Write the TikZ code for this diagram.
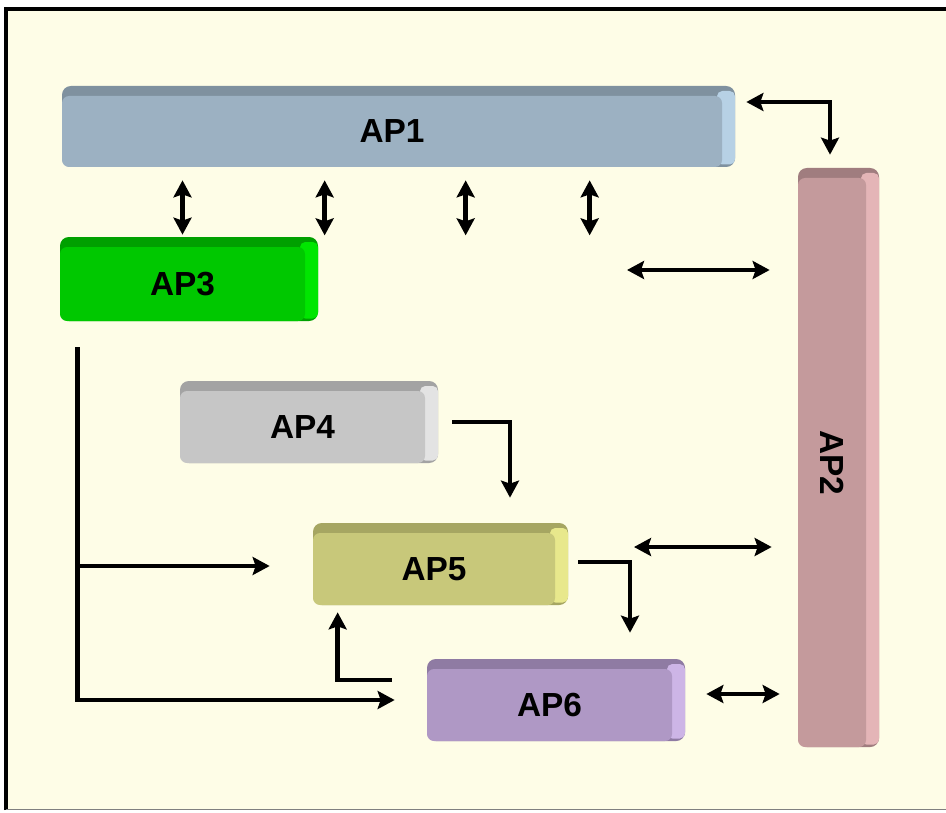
\documentclass[tikz,border=0pt]{standalone}
\usepackage{fontspec}
\setmainfont{Liberation Sans}
\usetikzlibrary{arrows.meta}

\definecolor{paper}{HTML}{FEFDE7}
\definecolor{aponeface}{HTML}{9CB1C2}
\definecolor{aponetop}{HTML}{7F919F}
\definecolor{aponeside}{HTML}{B7D1E5}
\definecolor{aptwoface}{HTML}{C49A9C}
\definecolor{aptwotop}{HTML}{A07D7F}
\definecolor{aptwoside}{HTML}{E4B5B7}
\definecolor{apthreeface}{HTML}{00C800}
\definecolor{apthreetop}{HTML}{00A000}
\definecolor{apthreeside}{HTML}{00E600}
\definecolor{apfourface}{HTML}{C6C6C6}
\definecolor{apfourtop}{HTML}{A3A3A3}
\definecolor{apfourside}{HTML}{E3E3E3}
\definecolor{apfiveface}{HTML}{C8C87A}
\definecolor{apfivetop}{HTML}{A6A662}
\definecolor{apfiveside}{HTML}{E8E88C}
\definecolor{apsixface}{HTML}{AF98C5}
\definecolor{apsixtop}{HTML}{8F7BA3}
\definecolor{apsixside}{HTML}{CDB5E6}

\begin{document}
\begin{tikzpicture}[
    apface/.style={rounded corners=4pt,inner sep=0pt,font=\fontsize{19}{22}\selectfont\bfseries},
    link/.style={line width=0.09cm,-{Stealth[length=0.34cm,width=0.36cm,inset=0.06cm]}},
    dlink/.style={line width=0.09cm,{Stealth[length=0.34cm,width=0.36cm,inset=0.06cm]}-{Stealth[length=0.34cm,width=0.36cm,inset=0.06cm]}}
]
        % block with a dark top edge and a light right edge
        % #1 name, #2 x, #3 y, #4 width, #5 height, #6 colour, #7 text
        \def\apblock#1#2#3#4#5#6#7{%
            \fill[#6top,rounded corners=5pt] ({#2-#4/2},{#3-#5/2}) rectangle ({#2+#4/2+0.26},{#3+#5/2+0.2});
            \fill[#6side,rounded corners=3pt] ({#2+#4/2-0.1},{#3-#5/2+0.05}) rectangle ({#2+#4/2+0.26},{#3+#5/2+0.1});
            \node[apface,fill=#6face,minimum width=#4cm,minimum height=#5cm] (#1) at (#2,#3) {#7};
        }
        \useasboundingbox (0,0) rectangle (18.92,16.24);
        % the frame
        \fill[white] (0,0) rectangle (18.92,16.24);
        \fill[paper] (0.12,0.04) rectangle (18.92,16.08);
        \draw[line width=0.09cm] (0.12,0.04) -- (0.12,16.06) -- (18.92,16.06);
        \draw[gray,line width=0.5pt] (0.12,0.05) -- (18.92,0.05);
        % the blocks
        \apblock{AP1}{7.84}{13.61}{13.2}{1.42}{apone}{AP1}
        \apblock{AP2}{16.64}{6.99}{1.36}{11.38}{aptwo}{\rotatebox{-90}{AP2}}
        \apblock{AP3}{3.65}{10.56}{4.9}{1.48}{apthree}{AP3}
        \apblock{AP4}{6.05}{7.70}{4.9}{1.44}{apfour}{AP4}
        \apblock{AP5}{8.68}{4.86}{4.84}{1.44}{apfive}{AP5}
        \apblock{AP6}{10.99}{2.14}{4.9}{1.44}{apsix}{AP6}
        % AP1 and AP2
        \draw[dlink] ([xshift=0.48cm,yshift=0.59cm]AP1.east) -| ([xshift=-0.04cm,yshift=0.46cm]AP2.north);
        % under AP1
        \draw[dlink,shorten <=0.02cm,shorten >=0.02cm] ([yshift=-0.24cm]AP1.south -| AP3.north) -- ([yshift=0.22cm]AP3.north);
        \foreach \dx in {5.26,8.08,10.56}
            \draw[dlink] ([xshift=\dx cm,yshift=-0.26cm]AP1.south west) -- ++(0,-1.1);
        \coordinate (m1) at (12.54,10.84);
        \draw[dlink,shorten >=0.56cm] (m1) -- (m1 -| AP2.west);
        % from AP3
        \coordinate (c3) at ([xshift=0.36cm,yshift=-0.52cm]AP3.south west);
        \draw[link,shorten >=0.64cm] (c3) |- ([yshift=0.1cm]AP6.west);
        \draw[link,shorten >=0.86cm] ([yshift=0.06cm]c3 |- AP5.west) -- ([yshift=0.06cm]AP5.west);
        % AP4, AP5 and AP6
        \draw[link] ([xshift=0.54cm,yshift=0.1cm]AP4.east) -| ([xshift=1.52cm,yshift=0.7cm]AP5.north);
        \draw[link] ([xshift=0.46cm,yshift=0.14cm]AP5.east) -| ([xshift=1.61cm,yshift=0.72cm]AP6.north);
        \draw[link] ([xshift=-0.7cm,yshift=0.5cm]AP6.west) -| ([xshift=0.5cm,yshift=-0.14cm]AP5.south west);
        \coordinate (m5) at (12.68,5.3);
        \draw[dlink,shorten >=0.52cm] (m5) -- (m5 -| AP2.west);
        \coordinate (m6) at ([xshift=0.68cm,yshift=0.22cm]AP6.east);
        \draw[dlink,shorten >=0.36cm] (m6) -- (m6 -| AP2.west);
\end{tikzpicture}
\end{document}
